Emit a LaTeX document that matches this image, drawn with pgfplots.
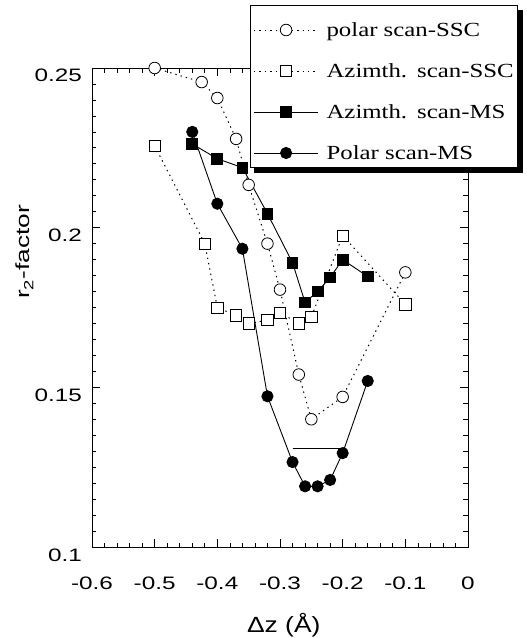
\documentclass[border=0pt]{standalone}
\usepackage{fontspec}
\setmainfont{Liberation Sans}
\newfontfamily\tickfont[FakeStretch=1.35]{Liberation Sans}
\newfontfamily\xlabfont[FakeStretch=1.2]{Liberation Sans}
\newfontfamily\ylabfont[FakeStretch=1.38]{Liberation Sans}
\newfontfamily\legfont[FakeStretch=1.24]{Liberation Serif}
\usepackage{pgfplots}
\pgfplotsset{compat=1.18}

\begin{document}
\begin{tikzpicture}
  \useasboundingbox (-92pt,-91pt) rectangle (435pt,547pt);
  \begin{axis}[
      at={(0pt,0pt)}, anchor=south west,
      scale only axis,
      width=376pt, height=479pt,
      xmin=-0.6, xmax=0,
      ymin=0.1, ymax=0.25,
      clip=false,
      xtick={-0.6,-0.5,-0.4,-0.3,-0.2,-0.1,0},
      xticklabels={-0.6,-0.5,-0.4,-0.3,-0.2,-0.1,0},
      ytick={0.1,0.15,0.2,0.25},
      yticklabels={0.1,0.15,0.2,0.25},
      minor x tick num=4,
      minor y tick num=9,
      tick align=inside,
      major tick length=8pt,
      minor tick length=4.5pt,
      tick style={black, line width=0.7pt},
      axis line style={line width=0.9pt},
      xticklabel style={font=\tickfont\fontsize{18}{20}\selectfont, inner sep=0pt, anchor=base, yshift=-42pt},
      yticklabel style={font=\tickfont\fontsize{18}{20}\selectfont, inner sep=0pt, anchor=base east, yshift=-14pt, xshift=-10pt},
      every axis x label/.style={at={(axis description cs:0.51,-0.1795)}, anchor=base},
      every axis y label/.style={at={(axis description cs:-0.165,0.616)}, rotate=90, anchor=base},
      xlabel={\xlabfont\fontsize{22}{24}\selectfont Δz (Å)},
      ylabel={\ylabfont\fontsize{19}{21}\selectfont r\textsubscript{2}-factor},
      legend image code/.code={%
        \draw[mark repeat=2, mark phase=2] plot coordinates {(13pt,-5pt) (45pt,-5pt) (77pt,-5pt)};
        \path (84pt,-5pt);},
      legend cell align=left,
      legend style={
        name=leg,
        at={(axis description cs:0.4202,1.1315)}, anchor=north west,
        draw=black, line width=1.2pt, fill=white,
        font=\legfont\fontsize{20}{22}\selectfont,
        inner xsep=3pt, inner ysep=6.9pt,
        row sep=16pt,
        nodes={text height=23pt, text depth=0pt, inner sep=1pt},
      },
    ]
    % polar scan, single scattering
    \addplot[black, line width=1pt, dash pattern=on 1.4pt off 4pt,
      mark=*, mark size=5.8pt, mark options={solid, fill=white, line width=0.8pt}] coordinates {
      (-0.50,0.2500) (-0.425,0.2456) (-0.40,0.2406) (-0.37,0.2278) (-0.35,0.2134)
      (-0.32,0.1950) (-0.30,0.1806) (-0.27,0.1540) (-0.25,0.1400) (-0.20,0.1470)
      (-0.10,0.1860)
    };
    \addlegendentry{polar scan-SSC}
    % azimuthal scan, single scattering
    \addplot[black, line width=1pt, dash pattern=on 1.4pt off 4pt,
      mark=square*, mark size=5.6pt, mark options={solid, fill=white, line width=0.8pt}] coordinates {
      (-0.50,0.2256) (-0.42,0.1950) (-0.40,0.1750) (-0.37,0.1725) (-0.35,0.1700)
      (-0.32,0.1710) (-0.30,0.1734) (-0.27,0.1700) (-0.25,0.1720) (-0.20,0.1975)
      (-0.10,0.1760)
    };
    \addlegendentry{Azimth.\hspace{0.5em}scan-SSC}
    % azimuthal scan, multiple scattering
    \addplot[black, line width=0.9pt, mark=square*, mark size=5.4pt,
      mark options={solid, fill=black}] coordinates {
      (-0.44,0.2262) (-0.40,0.2216) (-0.36,0.2188) (-0.32,0.2044) (-0.28,0.1890)
      (-0.26,0.1766) (-0.24,0.1800) (-0.22,0.1844) (-0.20,0.1900) (-0.16,0.1847)
    };
    \addlegendentry{Azimth.\hspace{0.5em}scan-MS}
    % polar scan, multiple scattering
    \addplot[black, line width=0.9pt, mark=*, mark size=5.6pt,
      mark options={solid, fill=black}] coordinates {
      (-0.44,0.2300) (-0.40,0.2075) (-0.36,0.1934) (-0.32,0.1472) (-0.28,0.1266)
      (-0.26,0.1190) (-0.24,0.1190) (-0.22,0.1210) (-0.20,0.1294) (-0.16,0.1520)
    };
    \addlegendentry{Polar scan-MS}
    % horizontal bar at the minimum
    \addplot[black, line width=0.9pt, forget plot] coordinates {(-0.28,0.1309) (-0.20,0.1309)};
  \end{axis}
  % drop shadow of the legend box
  \fill[black] ([yshift=-4.5pt]leg.north east) rectangle ([xshift=4.5pt,yshift=-4.5pt]leg.south east);
  \fill[black] ([xshift=4.5pt]leg.south west) rectangle ([xshift=4.5pt,yshift=-4.5pt]leg.south east);
\end{tikzpicture}
\end{document}
